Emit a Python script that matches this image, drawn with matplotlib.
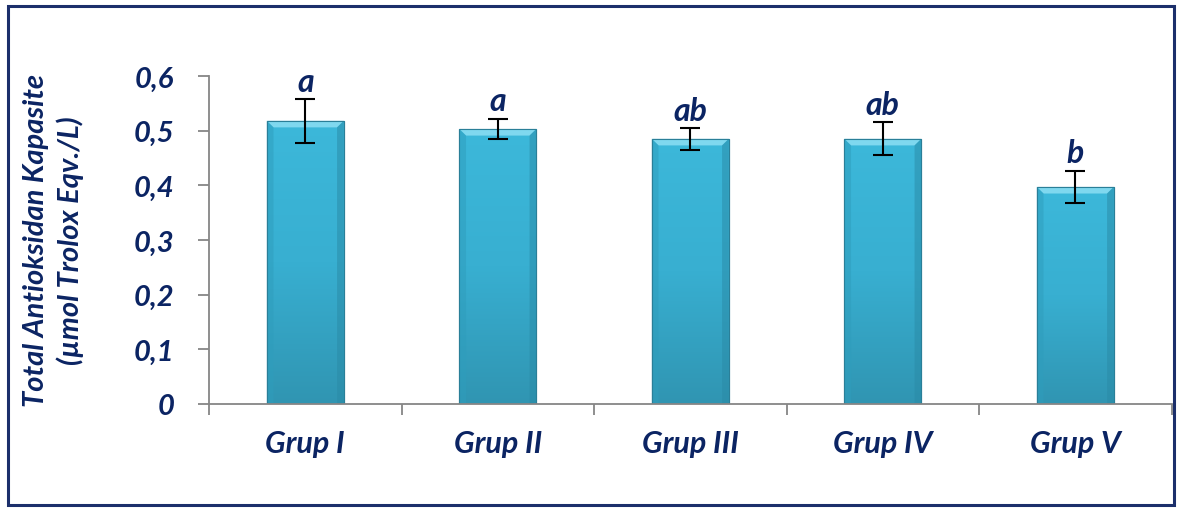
import matplotlib
matplotlib.use('Agg')
import matplotlib.pyplot as plt
import numpy as np
from matplotlib.patches import Rectangle, Polygon
from matplotlib.colors import LinearSegmentedColormap

groups = ['Grup I', 'Grup II', 'Grup III', 'Grup IV', 'Grup V']
tac = [0.518, 0.503, 0.485, 0.485, 0.397]
tac_err = [0.040, 0.019, 0.020, 0.030, 0.030]
letters = ['a', 'a', 'ab', 'ab', 'b']
yticks = [0, 0.1, 0.2, 0.3, 0.4, 0.5, 0.6]
yticklabels = ['0', '0,1', '0,2', '0,3', '0,4', '0,5', '0,6']

navy = '#0b2463'
font = dict(family=['Lato', 'DejaVu Sans'], weight='bold', style='italic', color=navy)

fig = plt.figure(figsize=(11.81, 5.10), dpi=100)
ax = fig.add_axes([0.177, 0.206, 0.815, 0.643])

# outer chart frame
fig.patches.append(Rectangle((0.007, 0.008), 0.987, 0.978, transform=fig.transFigure,
                             fill=False, edgecolor='#1c2f6b', linewidth=2.2))

x = np.arange(len(groups))
w = 0.40
bars = ax.bar(x, tac, width=w, color='#3ab4d6', edgecolor='#2a7f98', linewidth=0.8, zorder=2)

# vertical shading + bevel on each bar
cmap = LinearSegmentedColormap.from_list('barshade', ['#3095b2', '#38afd1', '#3cb8da'])
grad = np.linspace(0, 1, 256).reshape(-1, 1)
for b in bars:
    x0, h = b.get_x(), b.get_height()
    im = ax.imshow(grad, extent=(x0, x0 + w, 0, h), origin='lower', cmap=cmap,
                   aspect='auto', zorder=2.1)
    im.set_clip_path(b)
    bev = 0.012
    dx = 0.035
    ax.add_patch(Polygon([(x0, h), (x0 + w, h), (x0 + w - dx, h - bev), (x0 + dx, h - bev)],
                         closed=True, facecolor='#7fd8ef', edgecolor='none', zorder=2.2))
    ax.add_patch(Polygon([(x0, h), (x0 + dx, h - bev), (x0 + dx, 0), (x0, 0)],
                         closed=True, facecolor='#2f9dbc', edgecolor='none', alpha=0.5, zorder=2.2))
    ax.add_patch(Polygon([(x0 + w, h), (x0 + w - dx, h - bev), (x0 + w - dx, 0), (x0 + w, 0)],
                         closed=True, facecolor='#2a8aa6', edgecolor='none', alpha=0.5, zorder=2.2))
    ax.add_patch(Rectangle((x0, 0), w, h, fill=False, edgecolor='#2a7f98', linewidth=0.8, zorder=2.3))

ax.errorbar(x, tac, yerr=tac_err, fmt='none', ecolor='black', elinewidth=1.5,
            capsize=7, capthick=1.5, zorder=3)

for xi, v, e, lab in zip(x, tac, tac_err, letters):
    ax.text(xi, v + e + 0.006, lab, ha='center', va='bottom', fontsize=23, **font)

ax.set_xlim(-0.5, len(groups) - 0.5)
ax.set_ylim(0, 0.6)
ax.set_yticks(yticks)
ax.set_yticklabels(yticklabels, fontsize=21, **font)
ax.set_xticks(x)
ax.set_xticklabels(groups, fontsize=22, **font)
ax.tick_params(axis='x', length=0, pad=18)
ax.set_xticks(np.arange(len(groups) + 1) - 0.5, minor=True)
ax.tick_params(axis='x', which='minor', length=8, color='#868686', width=1.3)
ax.tick_params(axis='y', length=8, color='#868686', width=1.3, pad=17)

for s in ['top', 'right']:
    ax.spines[s].set_visible(False)
for s in ['left', 'bottom']:
    ax.spines[s].set_color('#868686')
    ax.spines[s].set_linewidth(1.3)

ax.set_ylabel('Total Antioksidan Kapasite\n(µmol Trolox Eqv./L)', fontsize=21,
              linespacing=1.3, labelpad=36, **font)

fig.savefig('out.png', dpi=100)
